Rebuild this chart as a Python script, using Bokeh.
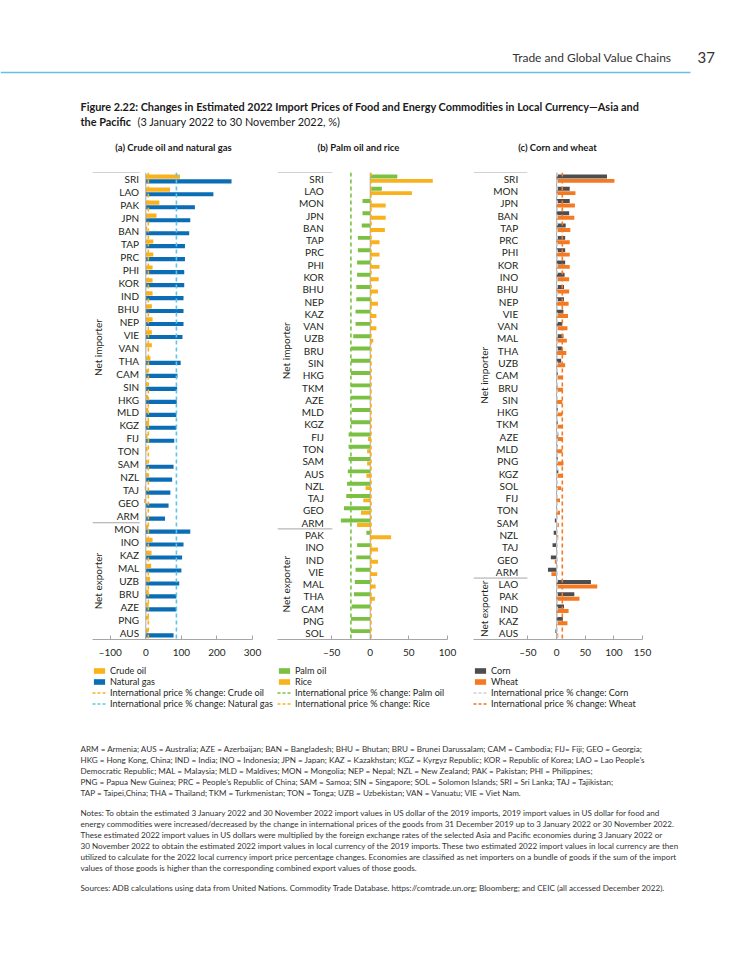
import numpy as np
from bokeh.plotting import figure
from bokeh.models import Range1d, ColumnDataSource, FixedTicker, Legend, LegendItem
from bokeh.layouts import column, row
from bokeh.embed import file_html
from bokeh.resources import INLINE
from bokeh.core.properties import value

FONT = "Lato"

# ---------------- data ----------------
# (a) Crude oil and natural gas
a_importers = ["SRI", "LAO", "PAK", "JPN", "BAN", "TAP", "PRC", "PHI", "KOR", "IND", "BHU", "NEP",
               "VIE", "VAN", "THA", "CAM", "SIN", "HKG", "MLD", "KGZ", "FIJ", "TON", "SAM", "NZL",
               "TAJ", "GEO", "ARM"]
a_exporters = ["MON", "INO", "KAZ", "MAL", "UZB", "BRU", "AZE", "PNG", "AUS"]
crude_oil = [96, 68, 38, 30, 4, 21, 21, 19, 19, 19, 17, 19, 17, 17, 13, 6, 7, 6, 7, 9, 5, 5, 5, 7,
             -3, -5, 2, 7, 19, 16, 15, 12, 8, 8, 8, 7]
natural_gas = [241, 190, 138, 125, 122, 110, 110, 108, 108, 106, 106, 106, 103, 0, 98, 89, 88, 87,
               86, 86, 80, 0, 78, 74, 69, 64, 54, 125, 106, 102, 100, 94, 86, 86, 0, 78]
intl_crude_oil = 7
intl_natural_gas = 86
a_ticks = [-100, 0, 100, 200, 300]

# (b) Palm oil and rice
b_importers = ["SRI", "LAO", "MON", "JPN", "BAN", "TAP", "PRC", "PHI", "KOR", "BHU", "NEP", "KAZ",
               "VAN", "UZB", "BRU", "SIN", "HKG", "TKM", "AZE", "MLD", "KGZ", "FIJ", "TON", "SAM",
               "AUS", "NZL", "TAJ", "GEO", "ARM"]
b_exporters = ["PAK", "INO", "IND", "VIE", "MAL", "THA", "CAM", "PNG", "SOL"]
palm_oil = [35, 15, -10, -10, -11, -16, -16, -17, -17, -18, -18, -19, -19, -22, -25, -25, -25, -25,
            -25, -24, -25, -28, -28, -28, -29, -30, -31, -34, -38, -5, -17, -18, -19, -20, -21, -24,
            -25, -25]
rice = [81, 54, 20, 20, 19, 12, 12, 12, 11, 10, 10, 8, 8, 4, 0, 0, 0, 0, 0, 0, 0, -3, -4, -4, -5,
        -6, -9, -12, -17, 27, 10, 10, 9, 7, 6, 0, 0, 0]
intl_palm_oil = -25
intl_rice = 1
b_ticks = [-50, 0, 50, 100]

# (c) Corn and wheat
c_importers = ["SRI", "MON", "JPN", "BAN", "TAP", "PRC", "PHI", "KOR", "INO", "BHU", "NEP", "VIE",
               "VAN", "MAL", "THA", "UZB", "CAM", "BRU", "SIN", "HKG", "TKM", "AZE", "MLD", "PNG",
               "KGZ", "SOL", "FIJ", "TON", "SAM", "NZL", "TAJ", "GEO", "ARM"]
c_exporters = ["LAO", "PAK", "IND", "KAZ", "AUS"]
corn = [88, 23, 23, 22, 16, 15, 15, 15, 14, 13, 13, 12, 10, 12, 10, 8, 2, 2, 1, 2, 2, 3, 2, 2, 3,
        0, -1, -1, -3, -5, -7, -10, -15, 60, 31, 13, 11, -2]
wheat = [101, 33, 32, 31, 24, 23, 23, 23, 22, 22, 21, 20, 19, 18, 17, 15, 11, 11, 10, 10, 11, 11,
         10, 12, 11, 8, 6, 6, 4, 3, -1, -3, -9, 71, 40, 21, 19, 3]
intl_corn = 1
intl_wheat = 10
c_ticks = [-50, 0, 50, 100, 150]

# ---------------- styles ----------------
C_CRUDE = "#F9B21C"
C_GAS = "#0A6DB5"
C_GAS_LINE = "#5CC6EE"
C_PALM = "#7AC143"
C_RICE = "#F9B21C"
C_CORN = "#4D4D4F"
C_CORN_LINE = "#CFCFCF"
C_WHEAT = "#F47920"
AX = "#A6A6A6"
TXT = "#231F20"
OFF = 0.18
BH = 0.32
DASH = "4 3"
NAN = float("nan")


def base_fig(xr, yr, **kw):
    p = figure(x_range=xr, y_range=yr, output_backend="svg", toolbar_location=None, **kw)
    p.grid.visible = False
    p.outline_line_color = None
    p.background_fill_color = "white"
    p.border_fill_color = "white"
    return p


def make_panel(importers, exporters, v1, c1, v2, c2, i1, ic1, i2, ic2, xr, ticks,
               label_x, group_x, sep_end, fw, bl, br):
    cats = importers + exporters
    n = len(cats)
    n_imp = len(importers)
    p = base_fig(Range1d(*xr), Range1d(n, 0), frame_width=fw, frame_height=467,
                 y_axis_location=None, min_border_left=bl, min_border_right=br,
                 min_border_top=12, min_border_bottom=25)
    idx = np.arange(n) + 0.5
    src = ColumnDataSource(dict(cat=cats, y1=idx - OFF, y2=idx + OFF, v1=v1, v2=v2, yl=idx,
                                xl=[label_x] * n))
    p.hbar(y="y1", left=0, right="v1", height=BH, source=src, fill_color=c1, line_color=None)
    p.hbar(y="y2", left=0, right="v2", height=BH, source=src, fill_color=c2, line_color=None)
    p.segment(x0=[0], x1=[0], y0=[0], y1=[n], line_color=AX, line_width=1)
    p.segment(x0=[xr[0], xr[0]], x1=[sep_end, sep_end], y0=[0, n_imp], y1=[0, n_imp],
              line_color=AX, line_width=1)
    p.segment(x0=[i1], x1=[i1], y0=[0], y1=[n], line_color=ic1, line_dash=DASH, line_width=1.6)
    p.segment(x0=[i2], x1=[i2], y0=[0], y1=[n], line_color=ic2, line_dash=DASH, line_width=1.6)
    p.text(x="xl", y="yl", text="cat", source=src, text_align="right", text_baseline="middle",
           text_font=value(FONT), text_font_size="10px", text_color=TXT)
    p.text(x=[group_x, group_x], y=[n_imp / 2, n_imp + (n - n_imp) / 2],
           text=["Net importer", "Net exporter"], angle=np.pi / 2, text_align="center",
           text_baseline="middle", text_font=value(FONT), text_font_size="10px", text_color=TXT)
    ax = p.xaxis[0]
    ax.ticker = FixedTicker(ticks=ticks)
    ax.major_label_overrides = {t: ("\u2013" + str(-t) if t < 0 else str(t)) for t in ticks}
    ax.axis_line_color = AX
    ax.major_tick_line_color = AX
    ax.minor_tick_line_color = None
    ax.major_tick_in = 4
    ax.major_tick_out = 0
    ax.major_label_standoff = 6
    ax.major_label_text_font = FONT
    ax.major_label_text_font_size = "10px"
    ax.major_label_text_color = TXT
    return p


pa = make_panel(a_importers, a_exporters, crude_oil, C_CRUDE, natural_gas, C_GAS,
                intl_crude_oil, C_CRUDE, intl_natural_gas, C_GAS_LINE,
                (-150, 300), a_ticks, -19, -135, -17, 160, 92, 23)
pb = make_panel(b_importers, b_exporters, palm_oil, C_PALM, rice, C_RICE,
                intl_palm_oil, C_PALM, intl_rice, C_RICE, (-120, 100), b_ticks, -60, -108.5, -49,
                170, 2, 23)
pc = make_panel(c_importers, c_exporters, corn, C_CORN, wheat, C_WHEAT,
                intl_corn, C_CORN_LINE, intl_wheat, C_WHEAT, (-145, 150), c_ticks, -67, -127, -51,
                169, 3, 92)

# ---------------- legends (one strip under the three panels) ----------------
pl = base_fig(Range1d(0, 1), Range1d(0, 1), width=734, height=56, x_axis_location=None,
              y_axis_location=None, min_border=0)
legend_specs = [
    (92, "Crude oil", C_CRUDE, "Natural gas", C_GAS, C_CRUDE, C_GAS_LINE),
    (277, "Palm oil", C_PALM, "Rice", C_RICE, C_PALM, C_RICE),
    (473, "Corn", C_CORN, "Wheat", C_WHEAT, C_CORN_LINE, C_WHEAT),
]
for lx, n1, c1, n2, c2, lc1, lc2 in legend_specs:
    e1 = pl.hbar(y=[NAN], left=[NAN], right=[NAN], height=1, fill_color=c1, line_color=None)
    e2 = pl.hbar(y=[NAN], left=[NAN], right=[NAN], height=1, fill_color=c2, line_color=None)
    e3 = pl.segment(x0=[NAN], x1=[NAN], y0=[NAN], y1=[NAN], line_color=lc1, line_dash="3 2",
                    line_width=1.4)
    e4 = pl.segment(x0=[NAN], x1=[NAN], y0=[NAN], y1=[NAN], line_color=lc2, line_dash="3 2",
                    line_width=1.4)
    items = [LegendItem(label=n1, renderers=[e1]), LegendItem(label=n2, renderers=[e2]),
             LegendItem(label="International price % change: " + n1, renderers=[e3]),
             LegendItem(label="International price % change: " + n2, renderers=[e4])]
    leg = Legend(items=items, location=(lx, 11), glyph_width=14, glyph_height=7,
                 label_height=10, spacing=0, padding=0, margin=0, border_line_color=None,
                 background_fill_alpha=0, label_standoff=4, label_text_font=FONT,
                 label_text_font_size="9.1px", label_text_line_height=1.0, label_text_color=TXT)
    pl.add_layout(leg)

# ---------------- header ----------------
ph = base_fig(Range1d(0, 734), Range1d(160, 0), width=734, height=160, x_axis_location=None,
              y_axis_location=None, min_border=0)
ph.text(x=[671], y=[57], text=["Trade and Global Value Chains"], text_align="right",
        text_baseline="middle", text_font=value(FONT), text_font_size="12px", text_color="#333333")
ph.text(x=[697], y=[57], text=["37"], text_align="left", text_baseline="middle",
        text_font=value(FONT), text_font_size="15px", text_color="#333333")
ph.segment(x0=[0], x1=[690], y0=[72], y1=[72], line_color="#62C2E6", line_width=1.5)
ph.text(x=[80], y=[106], text=["Figure 2.22: Changes in Estimated 2022 Import Prices of Food and "
                               "Energy Commodities in Local Currency\u2014Asia and"],
        text_align="left", text_baseline="middle", text_font=value(FONT), text_font_style="bold",
        text_font_size="10.9px", text_color="#1A1A1A")
ph.text(x=[80], y=[121], text=["the Pacific"], text_align="left", text_baseline="middle",
        text_font=value(FONT), text_font_style="bold", text_font_size="10.9px", text_color="#1A1A1A")
ph.text(x=[137], y=[121], text=["(3 January 2022 to 30 November 2022, %)"], text_align="left",
        text_baseline="middle", text_font=value(FONT), text_font_size="10.9px", text_color="#1A1A1A")
ph.text(x=[173, 358, 557], y=[147, 147, 147],
        text=["(a) Crude oil and natural gas", "(b) Palm oil and rice", "(c) Corn and wheat"],
        text_align="center", text_baseline="middle", text_font=value(FONT), text_font_style="bold",
        text_font_size="9.5px", text_color="#1A1A1A")

# ---------------- footer ----------------
foot_lines = [
    "ARM = Armenia; AUS = Australia; AZE = Azerbaijan; BAN = Bangladesh; BHU = Bhutan; BRU = Brunei Darussalam; CAM = Cambodia; FIJ= Fiji; GEO = Georgia;",
    "HKG = Hong Kong, China; IND = India; INO = Indonesia; JPN = Japan; KAZ = Kazakhstan; KGZ = Kyrgyz Republic; KOR = Republic of Korea; LAO = Lao People\u2019s",
    "Democratic Republic; MAL = Malaysia; MLD = Maldives; MON = Mongolia; NEP = Nepal; NZL = New Zealand; PAK = Pakistan; PHI = Philippines;",
    "PNG = Papua New Guinea; PRC = People\u2019s Republic of China; SAM = Samoa; SIN = Singapore; SOL = Solomon Islands; SRI = Sri Lanka; TAJ = Tajikistan;",
    "TAP = Taipei,China; THA = Thailand; TKM = Turkmenistan; TON = Tonga; UZB = Uzbekistan; VAN = Vanuatu; VIE = Viet Nam.",
    "Notes: To obtain the estimated 3 January 2022 and 30 November 2022 import values in US dollar of the 2019 imports, 2019 import values in US dollar for food and",
    "energy commodities were increased/decreased by the change in international prices of the goods from 31 December 2019 up to 3 January 2022 or 30 November 2022.",
    "These estimated 2022 import values in US dollars were multiplied by the foreign exchange rates of the selected Asia and Pacific economies during 3 January 2022 or",
    "30 November 2022 to obtain the estimated 2022 import values in local currency of the 2019 imports. These two estimated 2022 import values in local currency are then",
    "utilized to calculate for the 2022 local currency import price percentage changes. Economies are classified as net importers on a bundle of goods if the sum of the import",
    "values of those goods is higher than the corresponding combined export values of those goods.",
    "Sources: ADB calculations using data from United Nations. Commodity Trade Database. https://comtrade.un.org; Bloomberg; and CEIC (all accessed December 2022).",
]
foot_y = [748, 759, 770, 781, 792, 812, 823, 834, 845, 856, 867, 887]
pf = base_fig(Range1d(0, 734), Range1d(963, 720), width=734, height=243, x_axis_location=None,
              y_axis_location=None, min_border=0)
pf.text(x=[80] * len(foot_lines), y=foot_y, text=foot_lines, text_align="left",
        text_baseline="middle", text_font=value(FONT), text_font_size="8.1px", text_color="#333333")

layout = column(ph, row(pa, pb, pc, spacing=0), pl, pf, spacing=0)
open("out.html", "w").write(file_html(layout, INLINE))
